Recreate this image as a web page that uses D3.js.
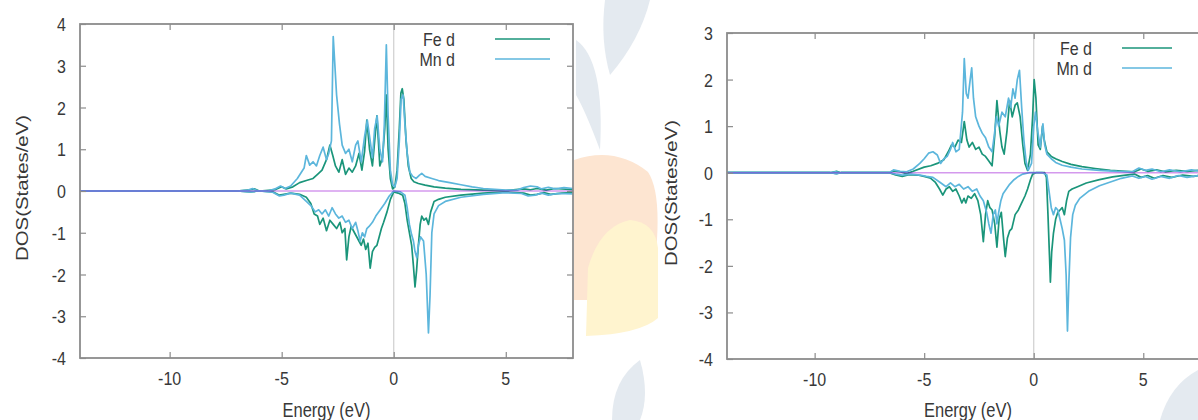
<!DOCTYPE html>
<html><head><meta charset="utf-8">
<script src="https://cdn.jsdelivr.net/npm/d3@7"></script>
<style>
body{margin:0;background:#fff;}
svg text{font-family:"Liberation Sans",Arial,sans-serif;fill:#383838;}
</style></head><body>
<svg id="chart" width="1198" height="420"></svg>
<script>
// Projected d-orbital DOS, [energy (eV), states/eV]; spin-up positive, spin-down negative.
const leftFeUp = [[-14,0],[-7,0],[-6.4,0.03],[-6.2,0.05],[-6.0,0],[-5.3,0.03],[-5.0,0.1],[-4.8,0.05],[-4.5,0.1],[-4.2,0.2],[-3.9,0.25],[-3.6,0.3],[-3.4,0.4],[-3.2,0.5],[-3.0,0.75],[-2.85,1.1],[-2.72,0.85],[-2.6,0.6],[-2.45,0.45],[-2.3,0.75],[-2.15,0.4],[-2.0,0.55],[-1.85,0.45],[-1.7,0.6],[-1.55,0.9],[-1.42,0.5],[-1.3,0.95],[-1.2,1.7],[-1.08,1.0],[-0.95,0.6],[-0.85,1.2],[-0.75,1.8],[-0.62,0.6],[-0.5,0.8],[-0.4,1.5],[-0.33,2.3],[-0.25,1.0],[-0.15,0.3],[-0.05,0.05],[0.05,0.1],[0.15,0.5],[0.25,1.5],[0.32,2.35],[0.38,2.45],[0.45,2.2],[0.55,1.2],[0.65,0.6],[0.78,0.3],[0.9,0.22],[1.1,0.18],[1.4,0.14],[1.8,0.1],[2.3,0.07],[3.0,0.04],[4.0,0.02],[5.0,0.01],[5.8,0.05],[6.1,0.03],[6.4,0.06],[6.8,0.02],[7.2,0.06],[8,0.03]];
const leftFeDown = [[-14,0],[-7,0],[-6.4,-0.02],[-6.0,0],[-5.4,-0.02],[-5.1,-0.1],[-4.9,-0.08],[-4.6,-0.05],[-4.2,-0.08],[-3.9,-0.15],[-3.7,-0.3],[-3.55,-0.55],[-3.4,-0.6],[-3.3,-0.8],[-3.15,-0.65],[-3.0,-0.95],[-2.85,-0.7],[-2.7,-0.8],[-2.55,-0.9],[-2.4,-0.75],[-2.3,-1.0],[-2.18,-0.9],[-2.1,-1.65],[-2.0,-1.1],[-1.9,-0.85],[-1.75,-1.0],[-1.6,-1.15],[-1.45,-1.3],[-1.35,-1.15],[-1.25,-1.4],[-1.15,-1.25],[-1.05,-1.85],[-0.95,-1.45],[-0.85,-1.35],[-0.75,-1.3],[-0.65,-1.1],[-0.55,-0.9],[-0.45,-0.75],[-0.3,-0.5],[-0.15,-0.2],[0.0,-0.02],[0.2,-0.05],[0.4,-0.1],[0.5,-0.3],[0.6,-0.7],[0.7,-1.0],[0.8,-1.3],[0.88,-1.8],[0.95,-2.3],[1.02,-1.9],[1.1,-1.3],[1.18,-0.8],[1.25,-0.6],[1.35,-0.7],[1.45,-0.65],[1.55,-0.8],[1.65,-0.5],[1.8,-0.25],[2.0,-0.2],[2.3,-0.15],[3.0,-0.1],[4.0,-0.05],[5.0,-0.02],[5.8,-0.05],[6.1,-0.1],[6.4,-0.08],[6.7,-0.04],[7.0,-0.08],[7.5,-0.05],[8,-0.04]];
const leftMnUp = [[-14,0],[-7,0],[-6.5,0.02],[-6.3,0.06],[-6.1,0.01],[-5.6,0],[-5.3,0.05],[-5.05,0.12],[-4.85,0.06],[-4.6,0.12],[-4.3,0.3],[-4.0,0.55],[-3.9,0.85],[-3.75,0.62],[-3.6,0.7],[-3.45,0.6],[-3.3,0.85],[-3.15,1.05],[-3.0,0.75],[-2.9,0.9],[-2.78,1.2],[-2.7,3.7],[-2.55,2.3],[-2.42,1.6],[-2.3,1.1],[-2.15,0.9],[-2.0,1.0],[-1.85,0.7],[-1.7,1.1],[-1.6,1.2],[-1.45,0.7],[-1.3,1.3],[-1.18,1.7],[-1.05,1.2],[-0.95,0.8],[-0.85,1.5],[-0.74,1.8],[-0.62,1.0],[-0.5,0.7],[-0.42,1.6],[-0.33,3.5],[-0.25,1.8],[-0.15,0.5],[-0.05,0.15],[0.05,0.1],[0.15,0.3],[0.25,1.2],[0.33,2.2],[0.42,2.3],[0.5,1.6],[0.6,0.9],[0.72,0.45],[0.85,0.35],[1.0,0.3],[1.15,0.38],[1.25,0.42],[1.4,0.35],[1.7,0.3],[2.0,0.25],[2.5,0.2],[3.0,0.15],[3.5,0.1],[4.0,0.06],[4.5,0.04],[5.0,0.02],[5.5,0.02],[5.8,0.08],[6.1,0.12],[6.4,0.1],[6.6,0.05],[6.9,0.09],[7.2,0.05],[7.6,0.08],[8,0.06]];
const leftMnDown = [[-14,0],[-7,0],[-6.4,-0.02],[-6.0,0],[-5.4,-0.03],[-5.1,-0.12],[-4.9,-0.1],[-4.6,-0.05],[-4.2,-0.1],[-3.9,-0.25],[-3.7,-0.35],[-3.5,-0.5],[-3.35,-0.45],[-3.2,-0.55],[-3.05,-0.45],[-2.9,-0.6],[-2.75,-0.4],[-2.6,-0.55],[-2.45,-0.65],[-2.3,-0.6],[-2.15,-0.75],[-2.0,-0.7],[-1.85,-0.9],[-1.7,-0.75],[-1.6,-0.95],[-1.5,-1.2],[-1.4,-1.0],[-1.3,-1.1],[-1.2,-0.9],[-1.1,-0.85],[-0.95,-0.75],[-0.8,-0.6],[-0.6,-0.45],[-0.4,-0.3],[-0.2,-0.12],[0.0,0],[0.3,-0.02],[0.5,-0.1],[0.6,-0.4],[0.7,-0.8],[0.8,-1.05],[0.88,-1.2],[0.95,-1.45],[1.03,-1.6],[1.1,-1.3],[1.2,-1.1],[1.33,-1.2],[1.45,-2.0],[1.55,-3.4],[1.62,-2.5],[1.7,-1.0],[1.8,-0.55],[2.0,-0.35],[2.3,-0.25],[3.0,-0.15],[4.0,-0.08],[5.0,-0.04],[5.7,-0.06],[6.0,-0.12],[6.3,-0.1],[6.6,-0.05],[6.9,-0.1],[7.3,-0.06],[8,-0.07]];

const rightFeUp = [[-14,0],[-9.3,0],[-9.0,0.03],[-8.8,0],[-6.6,0],[-6.4,0.04],[-6.1,0.02],[-5.8,-0.02],[-5.5,0.03],[-5.0,0.12],[-4.7,0.15],[-4.4,0.2],[-4.1,0.28],[-3.9,0.45],[-3.75,0.6],[-3.6,0.55],[-3.45,0.7],[-3.3,0.65],[-3.17,1.1],[-3.05,0.7],[-2.95,0.55],[-2.8,0.65],[-2.65,0.5],[-2.5,0.55],[-2.35,0.4],[-2.2,0.35],[-2.05,0.25],[-1.9,0.15],[-1.78,0.8],[-1.68,1.55],[-1.55,0.9],[-1.45,0.55],[-1.35,0.4],[-1.22,0.9],[-1.1,1.55],[-0.98,1.2],[-0.85,1.45],[-0.75,1.5],[-0.62,1.2],[-0.5,0.6],[-0.4,0.2],[-0.28,0.05],[-0.15,0.4],[-0.05,1.2],[0.02,2.0],[0.1,1.6],[0.2,0.6],[0.3,0.5],[0.4,1.0],[0.48,0.7],[0.6,0.45],[0.8,0.35],[1.0,0.3],[1.3,0.24],[1.7,0.18],[2.2,0.13],[2.8,0.09],[3.5,0.05],[4.2,0.03],[4.6,0.02],[4.9,0.08],[5.2,0.03],[5.6,0.06],[6.0,0.02],[6.5,0.05],[7.0,0.03],[7.5,0.05],[8,0.03]];
const rightFeDown = [[-14,0],[-9.3,0],[-9.0,-0.02],[-8.8,0],[-6.6,0],[-6.3,-0.05],[-6.0,-0.08],[-5.7,-0.04],[-5.3,-0.05],[-5.0,-0.08],[-4.7,-0.12],[-4.5,-0.2],[-4.3,-0.35],[-4.15,-0.48],[-4.0,-0.35],[-3.85,-0.3],[-3.7,-0.4],[-3.55,-0.35],[-3.4,-0.5],[-3.28,-0.65],[-3.18,-0.55],[-3.1,-0.65],[-3.0,-0.5],[-2.85,-0.55],[-2.7,-0.45],[-2.55,-0.6],[-2.42,-0.9],[-2.3,-1.48],[-2.2,-0.9],[-2.1,-0.6],[-2.0,-0.75],[-1.9,-0.8],[-1.78,-1.1],[-1.68,-1.6],[-1.58,-1.0],[-1.48,-0.85],[-1.38,-1.4],[-1.3,-1.8],[-1.2,-1.4],[-1.1,-1.25],[-1.0,-1.2],[-0.85,-0.9],[-0.7,-0.8],[-0.55,-0.65],[-0.4,-0.5],[-0.28,-0.35],[-0.15,-0.15],[-0.05,-0.03],[0.1,0],[0.5,0],[0.58,-0.1],[0.65,-0.9],[0.72,-1.8],[0.76,-2.35],[0.82,-1.7],[0.9,-1.3],[1.0,-1.0],[1.1,-0.85],[1.2,-0.8],[1.3,-0.75],[1.4,-0.9],[1.5,-0.6],[1.6,-0.4],[1.75,-0.35],[2.0,-0.3],[2.4,-0.22],[3.0,-0.15],[3.6,-0.09],[4.2,-0.05],[4.6,-0.03],[4.9,-0.1],[5.2,-0.06],[5.5,-0.12],[5.9,-0.06],[6.3,-0.1],[6.8,-0.05],[7.3,-0.08],[7.7,-0.04],[8,-0.06]];
const rightMnUp = [[-14,0],[-9.3,0],[-9.05,0.02],[-8.8,0],[-6.6,0],[-6.4,0.06],[-6.1,0.03],[-5.8,0.02],[-5.5,0.08],[-5.2,0.2],[-5.0,0.3],[-4.8,0.42],[-4.6,0.45],[-4.4,0.38],[-4.25,0.2],[-4.1,0.3],[-3.95,0.35],[-3.8,0.5],[-3.7,0.65],[-3.55,0.45],[-3.4,0.5],[-3.25,1.3],[-3.17,2.45],[-3.08,1.7],[-3.0,1.6],[-2.9,2.0],[-2.83,2.25],[-2.75,1.6],[-2.65,1.2],[-2.5,1.0],[-2.35,0.85],[-2.2,0.75],[-2.05,0.55],[-1.9,0.45],[-1.8,0.8],[-1.7,1.2],[-1.6,1.0],[-1.45,1.3],[-1.3,1.2],[-1.15,1.6],[-1.05,1.4],[-0.95,1.8],[-0.85,1.6],[-0.75,2.0],[-0.65,2.2],[-0.55,1.4],[-0.45,0.7],[-0.35,0.25],[-0.25,0.05],[-0.1,0.2],[0.0,1.0],[0.08,1.3],[0.18,0.9],[0.3,0.55],[0.42,1.05],[0.5,0.6],[0.6,0.4],[0.8,0.3],[1.0,0.22],[1.3,0.16],[1.7,0.12],[2.2,0.08],[3.0,0.05],[3.8,0.03],[4.5,0.02],[4.8,0.1],[5.1,0.05],[5.4,0.08],[5.8,0.02],[6.2,0.06],[6.7,0.02],[7.2,0.06],[7.6,0.03],[8,0.05]];
const rightMnDown = [[-14,0],[-9.3,0],[-9.0,-0.02],[-8.8,0],[-6.6,0],[-6.3,-0.03],[-6.0,-0.05],[-5.6,-0.03],[-5.2,-0.05],[-4.9,-0.08],[-4.6,-0.1],[-4.3,-0.2],[-4.0,-0.3],[-3.8,-0.22],[-3.6,-0.3],[-3.4,-0.25],[-3.2,-0.35],[-3.0,-0.3],[-2.8,-0.4],[-2.6,-0.35],[-2.45,-0.5],[-2.3,-0.6],[-2.15,-0.85],[-2.05,-1.1],[-1.95,-1.3],[-1.85,-0.9],[-1.75,-0.8],[-1.68,-1.1],[-1.6,-0.85],[-1.5,-0.6],[-1.4,-0.45],[-1.25,-0.35],[-1.1,-0.25],[-0.9,-0.15],[-0.7,-0.08],[-0.5,-0.03],[-0.2,0],[0.4,0],[0.6,-0.05],[0.7,-0.4],[0.8,-0.75],[0.9,-0.9],[1.0,-0.75],[1.1,-0.8],[1.2,-1.0],[1.3,-1.2],[1.4,-1.45],[1.48,-2.2],[1.54,-3.4],[1.6,-2.4],[1.68,-1.4],[1.78,-0.9],[1.9,-0.7],[2.1,-0.55],[2.5,-0.4],[3.0,-0.28],[3.5,-0.2],[4.0,-0.12],[4.5,-0.07],[4.8,-0.12],[5.1,-0.08],[5.4,-0.14],[5.8,-0.08],[6.2,-0.12],[6.6,-0.06],[7.0,-0.1],[7.5,-0.06],[8,-0.08]];

const energyTicks = [-10, -5, 0, 5];
const dosTicksLeft = [-4, -3, -2, -1, 0, 1, 2, 3, 4];
const dosTicksRight = [-4, -3, -2, -1, 0, 1, 2, 3];
const seriesNames = ["Fe d", "Mn d"];
const seriesColors = ["#1a957a", "#5cb6dc"];
const baselineColor = "#9400d3";
const textStretch = 1.2;

const svg = d3.select("#chart");

// faint page ornaments behind the plots
const deco = svg.append("g");
deco.append("path").attr("d", "M574,160 Q615,146 648,172 Q660,190 657,240 L657,300 L574,300 Z").attr("fill", "#fde5d1");
deco.append("path").attr("d", "M586,336 L588,268 Q600,226 630,220 Q655,222 658,248 L658,318 Q640,334 586,336 Z").attr("fill", "#fff4cf");
const leaf = "#e4eaf0";
deco.append("path").attr("d", "M576,40 Q605,60 600,150 Q585,110 576,95 Z").attr("fill", leaf);
deco.append("path").attr("d", "M605,0 L650,0 Q640,40 610,75 Q600,40 605,0 Z").attr("fill", leaf);
deco.append("path").attr("d", "M612,420 Q612,380 640,360 Q650,395 640,420 Z").attr("fill", leaf);
deco.append("path").attr("d", "M1160,420 Q1170,385 1198,370 L1198,420 Z").attr("fill", leaf);

// text drawn slightly taller than wide, anchored at its baseline
function label(g, x, y, txt, anchor, size) {
  return g.append("text")
    .attr("transform", `translate(${x},${y}) scale(1,${textStretch})`)
    .attr("text-anchor", anchor).attr("font-size", size).text(txt);
}

function drawPanel(cfg) {
  const g = svg.append("g");
  const x = d3.scaleLinear().domain([-14, 8]).range([cfg.left, cfg.right]);
  const y = d3.scaleLinear().domain(cfg.yDomain).range([cfg.bottom, cfg.top]);
  const clipId = "clip" + cfg.id;
  g.append("clipPath").attr("id", clipId).append("rect")
    .attr("x", cfg.left).attr("y", cfg.top)
    .attr("width", cfg.right - cfg.left).attr("height", cfg.bottom - cfg.top);

  g.append("rect").attr("x", cfg.left).attr("y", cfg.top)
    .attr("width", cfg.right - cfg.left).attr("height", cfg.bottom - cfg.top)
    .attr("fill", "#fff");

  // Fermi level
  g.append("line").attr("x1", x(0)).attr("x2", x(0)).attr("y1", cfg.top).attr("y2", cfg.bottom)
    .attr("stroke", "#cfcfcf").attr("stroke-width", 1.2);

  const plot = g.append("g").attr("clip-path", `url(#${clipId})`);
  const line = d3.line().x(d => x(d[0])).y(d => y(d[1]));
  cfg.series.forEach(s => {
    plot.append("path").datum(s.data).attr("d", line)
      .attr("fill", "none").attr("stroke", s.color).attr("stroke-width", 1.7)
      .attr("stroke-linejoin", "round");
  });
  plot.append("line").attr("x1", x(-14)).attr("x2", x(8)).attr("y1", y(0)).attr("y2", y(0))
    .attr("stroke", baselineColor).attr("stroke-opacity", 0.4).attr("stroke-width", 1.6);

  // frame with inward ticks on all four sides
  const axisColor = "#8c8c8c";
  const tickStyle = a => {
    a.select(".domain").remove();
    a.selectAll(".tick line").attr("stroke", axisColor).attr("stroke-width", 1.2);
    a.selectAll(".tick text").remove();
  };
  g.append("g").attr("transform", `translate(0,${cfg.bottom})`)
    .call(d3.axisBottom(x).tickValues(energyTicks).tickSizeInner(-6).tickSizeOuter(0)).call(tickStyle);
  g.append("g").attr("transform", `translate(0,${cfg.top})`)
    .call(d3.axisTop(x).tickValues(energyTicks).tickSizeInner(-6).tickSizeOuter(0)).call(tickStyle);
  g.append("g").attr("transform", `translate(${cfg.left},0)`)
    .call(d3.axisLeft(y).tickValues(cfg.yTicks).tickSizeInner(-6).tickSizeOuter(0)).call(tickStyle);
  g.append("g").attr("transform", `translate(${cfg.right},0)`)
    .call(d3.axisRight(y).tickValues(cfg.yTicks).tickSizeInner(-6).tickSizeOuter(0)).call(tickStyle);

  g.append("rect").attr("x", cfg.left).attr("y", cfg.top)
    .attr("width", cfg.right - cfg.left).attr("height", cfg.bottom - cfg.top)
    .attr("fill", "none").attr("stroke", axisColor).attr("stroke-width", 1.8);

  // tick labels
  energyTicks.forEach(t => label(g, x(t), cfg.bottom + 27, String(t), "middle", 16));
  cfg.yTicks.forEach(t => label(g, cfg.left - 14, y(t) + 7, String(t), "end", 16));

  // axis titles
  label(g, (cfg.left + cfg.right) / 2, cfg.xTitleY, "Energy (eV)", "middle", 16.5);
  g.append("text").attr("transform", `translate(${cfg.yTitleX},${(cfg.top + cfg.bottom) / 2 - 3}) rotate(-90)`)
    .attr("text-anchor", "middle").attr("font-size", 17).attr("textLength", 146)
    .attr("lengthAdjust", "spacingAndGlyphs").text("DOS(States/eV)");

  // key
  seriesNames.forEach((name, i) => {
    const ly = cfg.keyY + i * 20;
    label(g, cfg.keyTextX, ly + 7, name, "end", 16);
    g.append("line").attr("x1", cfg.keyLineX0).attr("x2", cfg.keyLineX1)
      .attr("y1", ly).attr("y2", ly).attr("stroke", seriesColors[i]).attr("stroke-width", 1.7);
  });
}

drawPanel({
  id: "L", left: 80, right: 573, top: 24, bottom: 358, yDomain: [-4, 4], yTicks: dosTicksLeft,
  xTitleY: 417, yTitleX: 28, keyY: 39, keyTextX: 455, keyLineX0: 495, keyLineX1: 550,
  series: [
    {data: leftFeUp, color: seriesColors[0]}, {data: leftFeDown, color: seriesColors[0]},
    {data: leftMnUp, color: seriesColors[1]}, {data: leftMnDown, color: seriesColors[1]}
  ]
});
drawPanel({
  id: "R", left: 727, right: 1209, top: 33, bottom: 359, yDomain: [-4, 3], yTicks: dosTicksRight,
  xTitleY: 417, yTitleX: 677, keyY: 48, keyTextX: 1092, keyLineX0: 1122, keyLineX1: 1172,
  series: [
    {data: rightFeUp, color: seriesColors[0]}, {data: rightFeDown, color: seriesColors[0]},
    {data: rightMnUp, color: seriesColors[1]}, {data: rightMnDown, color: seriesColors[1]}
  ]
});
</script>
</body></html>
